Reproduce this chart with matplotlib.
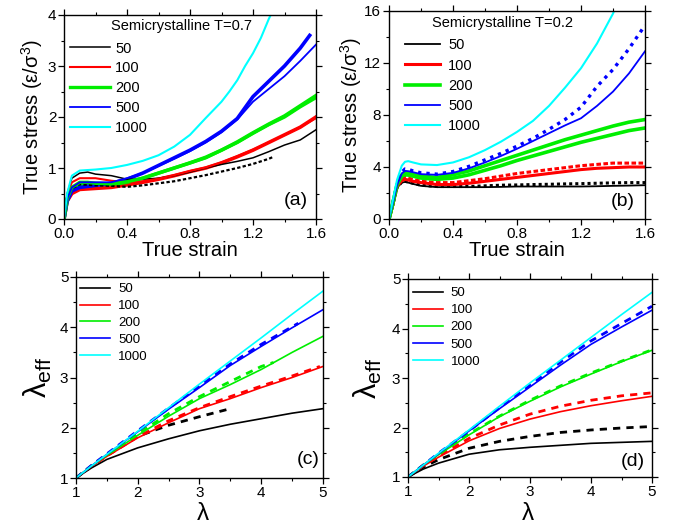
import numpy as np
import matplotlib
matplotlib.use("Agg")
import matplotlib.pyplot as plt
from matplotlib.ticker import MultipleLocator

plt.rcParams['font.family'] = ['Liberation Sans', 'DejaVu Sans']
plt.rcParams['mathtext.fontset'] = 'custom'
plt.rcParams['mathtext.rm'] = 'Liberation Sans'
plt.rcParams['mathtext.it'] = 'Liberation Sans:italic'

labels = ['50', '100', '200', '500', '1000']
colors = ['#000000', '#ff0000', '#00ee00', '#0000ff', '#00ffff']

# ---------------- panel (a): T = 0.7 ----------------
a_x = [0, 0.02, 0.05, 0.1, 0.15, 0.2, 0.3, 0.4, 0.5, 0.6, 0.7, 0.8, 0.9, 1.0, 1.1, 1.2, 1.3, 1.4, 1.5, 1.6]
a_50_solid = [0, 0.5, 0.8, 0.9, 0.92, 0.88, 0.85, 0.78, 0.78, 0.8, 0.85, 0.92, 1.0, 1.07, 1.13, 1.2, 1.32, 1.45, 1.55, 1.75]
a_50_dot_x = [0, 0.02, 0.05, 0.1, 0.2, 0.3, 0.4, 0.5, 0.6, 0.7, 0.8, 0.9, 1.0, 1.1, 1.2, 1.3, 1.33]
a_50_dot = [0, 0.4, 0.6, 0.68, 0.66, 0.65, 0.63, 0.66, 0.7, 0.74, 0.8, 0.86, 0.93, 1.0, 1.08, 1.18, 1.22]
a_100_solid = [0, 0.45, 0.72, 0.8, 0.8, 0.8, 0.75, 0.72, 0.74, 0.79, 0.86, 0.94, 1.01, 1.11, 1.23, 1.36, 1.5, 1.65, 1.8, 1.98]
a_100_thick = [0, 0.35, 0.5, 0.58, 0.59, 0.6, 0.62, 0.67, 0.72, 0.78, 0.85, 0.93, 1.0, 1.1, 1.22, 1.35, 1.5, 1.65, 1.8, 2.0]
a_200_solid = [0, 0.4, 0.62, 0.72, 0.72, 0.7, 0.69, 0.73, 0.8, 0.9, 1.0, 1.1, 1.2, 1.35, 1.5, 1.68, 1.85, 2.0, 2.2, 2.38]
a_200_thick = [0, 0.38, 0.6, 0.68, 0.68, 0.68, 0.68, 0.72, 0.8, 0.9, 1.0, 1.1, 1.21, 1.35, 1.51, 1.69, 1.86, 2.02, 2.22, 2.42]
a_500_solid = [0, 0.4, 0.62, 0.72, 0.72, 0.72, 0.72, 0.8, 0.9, 1.04, 1.18, 1.33, 1.5, 1.7, 1.95, 2.3, 2.55, 2.8, 3.1, 3.42]
a_500_thick_x = [0, 0.02, 0.05, 0.1, 0.15, 0.2, 0.3, 0.4, 0.5, 0.6, 0.7, 0.8, 0.9, 1.0, 1.1, 1.2, 1.3, 1.4, 1.5, 1.56]
a_500_thick = [0, 0.35, 0.55, 0.62, 0.64, 0.66, 0.7, 0.78, 0.9, 1.05, 1.2, 1.35, 1.52, 1.72, 1.97, 2.4, 2.7, 3.0, 3.35, 3.6]
a_1000_x = [0, 0.02, 0.05, 0.1, 0.2, 0.3, 0.4, 0.5, 0.6, 0.7, 0.8, 0.9, 1.0, 1.05, 1.1, 1.15, 1.2, 1.25, 1.3, 1.32]
a_1000 = [0, 0.5, 0.85, 0.95, 0.97, 1.0, 1.06, 1.14, 1.25, 1.42, 1.65, 1.98, 2.3, 2.5, 2.72, 3.0, 3.25, 3.55, 3.92, 4.05]

# ---------------- panel (b): T = 0.2 ----------------
b_x = [0, 0.02, 0.05, 0.08, 0.1, 0.12, 0.15, 0.2, 0.3, 0.4, 0.5, 0.6, 0.7, 0.8, 0.9, 1.0, 1.1, 1.2, 1.3, 1.4, 1.5, 1.6]
b_50_solid = [0, 0.9, 2.4, 2.8, 2.85, 2.8, 2.7, 2.55, 2.45, 2.45, 2.45, 2.45, 2.47, 2.5, 2.5, 2.5, 2.5, 2.5, 2.52, 2.55, 2.57, 2.6]
b_50_dot = [0, 0.9, 2.4, 2.85, 2.9, 2.85, 2.75, 2.6, 2.5, 2.5, 2.5, 2.55, 2.6, 2.62, 2.65, 2.67, 2.7, 2.72, 2.75, 2.78, 2.8, 2.8]
b_100_solid = [0, 0.9, 2.5, 2.95, 3.05, 3.0, 2.9, 2.8, 2.65, 2.65, 2.75, 2.9, 3.05, 3.2, 3.35, 3.5, 3.65, 3.8, 3.9, 3.95, 4.0, 4.0]
b_100_dot = [0, 0.9, 2.5, 3.05, 3.2, 3.15, 3.05, 2.9, 2.8, 2.8, 2.95, 3.1, 3.3, 3.5, 3.65, 3.8, 3.95, 4.1, 4.2, 4.3, 4.3, 4.3]
b_200_lower = [0, 1.0, 2.6, 3.3, 3.4, 3.38, 3.3, 3.15, 3.05, 3.15, 3.4, 3.75, 4.1, 4.5, 4.85, 5.2, 5.55, 5.9, 6.2, 6.5, 6.8, 7.0]
b_200_upper = [0, 1.0, 2.6, 3.4, 3.6, 3.55, 3.45, 3.3, 3.2, 3.4, 3.7, 4.1, 4.5, 4.9, 5.3, 5.7, 6.1, 6.45, 6.8, 7.15, 7.45, 7.65]
b_500_solid = [0, 1.0, 2.6, 3.5, 3.7, 3.68, 3.6, 3.45, 3.4, 3.55, 3.9, 4.35, 4.85, 5.4, 6.0, 6.6, 7.2, 7.75, 8.7, 9.8, 11.2, 12.9]
b_500_dot = [0, 1.0, 2.6, 3.6, 3.85, 3.82, 3.7, 3.55, 3.45, 3.65, 4.05, 4.55, 5.05, 5.6, 6.2, 6.9, 7.65, 8.6, 10.2, 11.5, 13.1, 14.9]
b_1000_x = [0, 0.02, 0.05, 0.08, 0.1, 0.12, 0.15, 0.2, 0.3, 0.4, 0.5, 0.6, 0.7, 0.8, 0.9, 1.0, 1.1, 1.2, 1.3, 1.4, 1.41]
b_1000 = [0, 1.2, 3.0, 4.1, 4.4, 4.45, 4.35, 4.2, 4.15, 4.35, 4.75, 5.3, 5.95, 6.7, 7.55, 8.7, 10.1, 11.6, 13.5, 15.8, 16.1]

# ---------------- panel (c): T = 0.7, lambda_eff ----------------
c_lam = [1, 1.25, 1.5, 2, 2.5, 3, 3.5, 4, 4.5, 5]
c_50 = [1, 1.2, 1.37, 1.6, 1.78, 1.94, 2.07, 2.18, 2.29, 2.38]
c_100 = [1, 1.23, 1.43, 1.8, 2.1, 2.38, 2.58, 2.8, 3.0, 3.22]
c_200 = [1, 1.24, 1.45, 1.85, 2.23, 2.58, 2.86, 3.16, 3.5, 3.82]
c_500 = [1, 1.24, 1.47, 1.92, 2.37, 2.8, 3.24, 3.62, 3.99, 4.35]
c_1000 = [1, 1.24, 1.47, 1.93, 2.4, 2.87, 3.33, 3.79, 4.26, 4.72]
c_50_dash_lam = [1, 1.25, 1.5, 2, 2.5, 3, 3.5]
c_50_dash = [1, 1.24, 1.45, 1.83, 2.05, 2.22, 2.38]
c_100_dash_lam = [1, 1.25, 1.5, 2, 2.5, 3, 3.5, 4, 4.5, 4.95]
c_100_dash = [1, 1.23, 1.44, 1.82, 2.14, 2.4, 2.62, 2.83, 3.03, 3.22]
c_200_dash_lam = [1, 1.25, 1.5, 2, 2.5, 3, 3.5, 4, 4.2]
c_200_dash = [1, 1.24, 1.47, 1.88, 2.28, 2.62, 2.92, 3.22, 3.3]
c_500_dash_lam = [1, 1.25, 1.5, 2, 2.5, 3, 3.5, 4, 4.6]
c_500_dash = [1, 1.25, 1.48, 1.94, 2.39, 2.83, 3.27, 3.66, 4.08]

# ---------------- panel (d): T = 0.2, lambda_eff ----------------
d_lam = [1, 1.25, 1.5, 2, 2.5, 3, 3.5, 4, 4.5, 5]
d_50 = [1, 1.16, 1.28, 1.46, 1.55, 1.6, 1.64, 1.68, 1.7, 1.72]
d_100 = [1, 1.22, 1.4, 1.73, 1.98, 2.17, 2.32, 2.44, 2.54, 2.63]
d_200 = [1, 1.24, 1.45, 1.85, 2.22, 2.53, 2.82, 3.08, 3.33, 3.56]
d_500 = [1, 1.24, 1.47, 1.93, 2.38, 2.82, 3.26, 3.68, 4.03, 4.37]
d_1000 = [1, 1.24, 1.48, 1.95, 2.43, 2.9, 3.36, 3.82, 4.28, 4.73]
d_50_dash = [1, 1.2, 1.35, 1.58, 1.72, 1.82, 1.9, 1.95, 1.99, 2.02]
d_100_dash = [1, 1.23, 1.42, 1.78, 2.05, 2.27, 2.43, 2.55, 2.64, 2.7]
d_200_dash = [1, 1.24, 1.46, 1.87, 2.23, 2.55, 2.84, 3.1, 3.34, 3.57]
d_500_dash = [1, 1.24, 1.48, 1.93, 2.4, 2.85, 3.32, 3.75, 4.1, 4.45]

W, H = 677, 525
fig = plt.figure(figsize=(W / 100, H / 100), dpi=100)


def box(l, r, t, b):
    return [l / W, 1 - b / H, (r - l) / W, (b - t) / H]


axa = fig.add_axes(box(64, 316, 15, 219))
axb = fig.add_axes(box(389, 645, 11, 219))
axc = fig.add_axes(box(76, 323, 277, 478))
axd = fig.add_axes(box(408, 652, 279, 477))

K, R, G, B, C = colors
thin = 1.1
thick = 2.6

# (a)
axa.plot(a_x, a_100_thick, color=R, lw=thick)
axa.plot(a_x, a_200_thick, color=G, lw=thick)
axa.plot(a_500_thick_x, a_500_thick, color=B, lw=thick)
axa.plot(a_50_dot_x, a_50_dot, color=K, lw=1.6, ls=(0, (1.5, 1)))
la = []
la.append(axa.plot(a_x, a_50_solid, color=K, lw=thin)[0])
la.append(axa.plot(a_x, a_100_solid, color=R, lw=1.5)[0])
la.append(axa.plot(a_x, a_200_solid, color=G, lw=2.4)[0])
la.append(axa.plot(a_x, a_500_solid, color=B, lw=1.3)[0])
la.append(axa.plot(a_1000_x, a_1000, color=C, lw=1.5)[0])

# (b)
axb.plot(b_x, b_50_dot, color=K, lw=2.2, ls=(0, (1, 1)))
axb.plot(b_x, b_100_dot, color=R, lw=2.2, ls=(0, (1.5, 0.8)))
axb.plot(b_x, b_200_upper, color=G, lw=thick)
axb.plot(b_x, b_500_dot, color=B, lw=2.4, ls=(0, (1, 1.5)))
lb = []
lb.append(axb.plot(b_x, b_50_solid, color=K, lw=1.3)[0])
lb.append(axb.plot(b_x, b_100_solid, color=R, lw=2.2)[0])
lb.append(axb.plot(b_x, b_200_lower, color=G, lw=thick)[0])
lb.append(axb.plot(b_x, b_500_solid, color=B, lw=1.3)[0])
lb.append(axb.plot(b_1000_x, b_1000, color=C, lw=1.5)[0])

# (c)
dash = (0, (2.6, 2.2))
axc.plot(c_50_dash_lam, c_50_dash, color=K, lw=2.0, ls=dash)
axc.plot(c_100_dash_lam, c_100_dash, color=R, lw=2.0, ls=dash)
axc.plot(c_200_dash_lam, c_200_dash, color=G, lw=2.0, ls=dash)
axc.plot(c_500_dash_lam, c_500_dash, color=B, lw=2.0, ls=dash)
lc = []
for ys, col in zip([c_50, c_100, c_200, c_500, c_1000], colors):
    lc.append(axc.plot(c_lam, ys, color=col, lw=1.2)[0])

# (d)
ld = []
for ys, col in zip([d_50_dash, d_100_dash, d_200_dash, d_500_dash], colors[:4]):
    axd.plot(d_lam, ys, color=col, lw=2.0, ls=dash)
for ys, col in zip([d_50, d_100, d_200, d_500, d_1000], colors):
    ld.append(axd.plot(d_lam, ys, color=col, lw=1.2)[0])

# axes styling
for ax in (axa, axb, axc, axd):
    ax.tick_params(which='both', direction='out', top=True, right=True,
                   labeltop=False, labelright=False, labelsize=11, pad=1.5)
    ax.tick_params(which='major', length=4, width=0.9)
    ax.tick_params(which='minor', length=2.5, width=0.8)
    for s in ax.spines.values():
        s.set_linewidth(1.0)

axa.set_xlim(0, 1.6); axa.set_ylim(0, 4)
axa.set_xticks([0, 0.4, 0.8, 1.2, 1.6]); axa.set_xticklabels(['0.0', '0.4', '0.8', '1.2', '1.6'])
axa.xaxis.set_minor_locator(MultipleLocator(0.2))
axa.yaxis.set_major_locator(MultipleLocator(1)); axa.yaxis.set_minor_locator(MultipleLocator(0.5))

axb.set_xlim(0, 1.6); axb.set_ylim(0, 16)
axb.set_xticks([0, 0.4, 0.8, 1.2, 1.6]); axb.set_xticklabels(['0.0', '0.4', '0.8', '1.2', '1.6'])
axb.xaxis.set_minor_locator(MultipleLocator(0.2))
axb.yaxis.set_major_locator(MultipleLocator(4)); axb.yaxis.set_minor_locator(MultipleLocator(2))

for ax in (axc, axd):
    ax.set_xlim(1, 5); ax.set_ylim(1, 5)
    ax.xaxis.set_major_locator(MultipleLocator(1)); ax.xaxis.set_minor_locator(MultipleLocator(0.5))
    ax.yaxis.set_major_locator(MultipleLocator(1)); ax.yaxis.set_minor_locator(MultipleLocator(0.5))

axa.set_xlabel('True strain', fontsize=14.5, labelpad=0)
axa.set_ylabel('True stress (ε/σ$^{3}$)', fontsize=14.5, labelpad=2)
axb.set_xlabel('True strain', fontsize=14.5, labelpad=0)
axb.set_ylabel('True stress (ε/σ$^{3}$)', fontsize=14.5, labelpad=0)
axc.set_ylabel(r'$\mathrm{\lambda}_{\mathrm{eff}}$', fontsize=22, labelpad=4)
axd.set_ylabel(r'$\mathrm{\lambda}_{\mathrm{eff}}$', fontsize=22, labelpad=6)
# x labels for the lambda panels, placed by baseline to sit just under tick labels
fig.text(203 / W, 1 - 519.5 / H, 'λ', fontsize=17.5, ha='center', va='baseline')
fig.text(528 / W, 1 - 519.5 / H, 'λ', fontsize=17.5, ha='center', va='baseline')

# legends
axa.legend(la, labels, loc='upper left', bbox_to_anchor=(0.024, 0.87), frameon=False,
           fontsize=10.5, handlelength=2.75, handletextpad=0.35, labelspacing=0.4,
           borderpad=0, borderaxespad=0)
axa.text(0.187, 0.948, 'Semicrystalline T=0.7', transform=axa.transAxes,
         fontsize=10.5, ha='left', va='center')
axb.legend(lb, labels, loc='upper left', bbox_to_anchor=(0.0625, 0.868), frameon=False,
           fontsize=10.5, handlelength=2.4, handletextpad=0.55, labelspacing=0.42,
           borderpad=0, borderaxespad=0)
axb.text(0.168, 0.94, 'Semicrystalline T=0.2', transform=axb.transAxes,
         fontsize=10.5, ha='left', va='center')
axc.legend(lc, labels, loc='upper left', bbox_to_anchor=(0.016, 0.97), frameon=False,
           fontsize=9.5, handlelength=2.3, handletextpad=0.6, labelspacing=0.35,
           borderpad=0, borderaxespad=0)
axd.legend(ld, labels, loc='upper left', bbox_to_anchor=(0.02, 0.96), frameon=False,
           fontsize=9.5, handlelength=2.3, handletextpad=0.55, labelspacing=0.37,
           borderpad=0, borderaxespad=0)

axa.text(0.968, 0.093, '(a)', transform=axa.transAxes, fontsize=14, ha='right', va='center')
axb.text(0.961, 0.082, '(b)', transform=axb.transAxes, fontsize=14, ha='right', va='center')
axc.text(0.988, 0.09, '(c)', transform=axc.transAxes, fontsize=14, ha='right', va='center')
axd.text(0.971, 0.076, '(d)', transform=axd.transAxes, fontsize=14, ha='right', va='center')

fig.savefig('out.png', dpi=100)
